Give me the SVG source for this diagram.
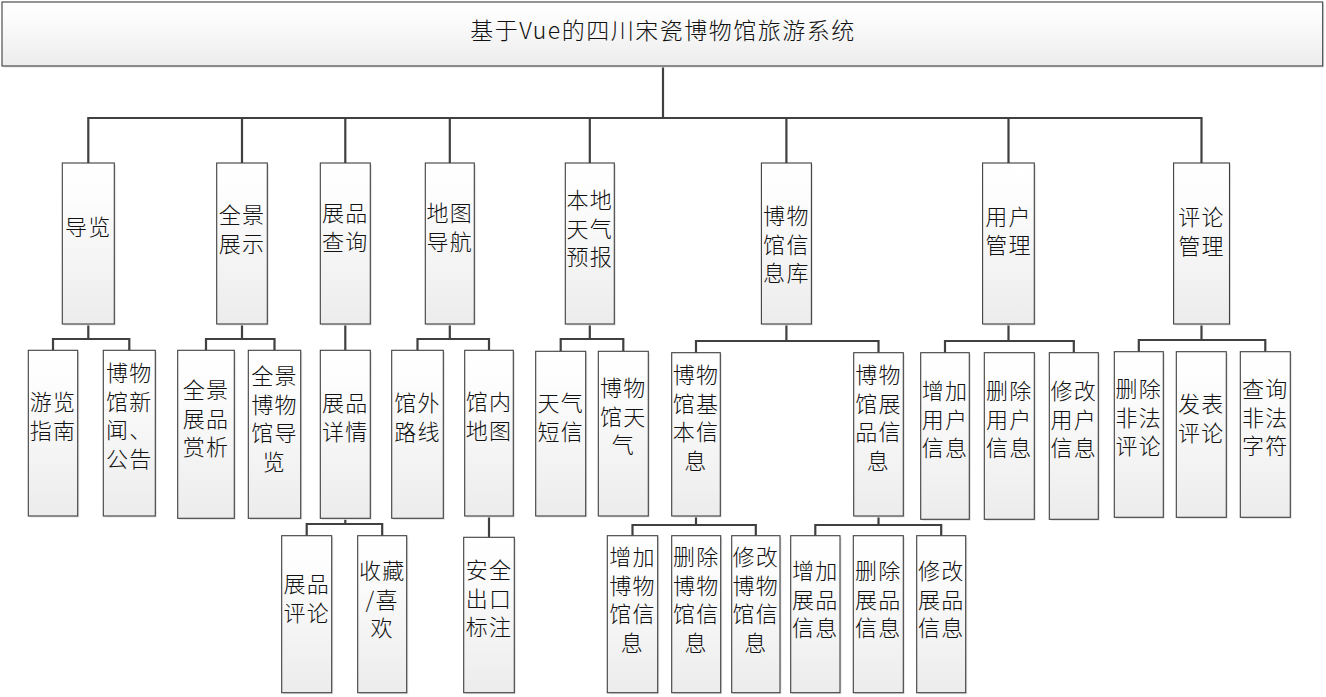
<svg xmlns="http://www.w3.org/2000/svg" width="1326" height="697" viewBox="0 0 1326 697">
<defs>
<linearGradient id="g" x1="0" y1="0" x2="0" y2="1">
<stop offset="0" stop-color="#ffffff"/>
<stop offset="0.2" stop-color="#fdfdfd"/>
<stop offset="1" stop-color="#ececec"/>
</linearGradient>
<style>
.box{fill:url(#g);stroke:#3f3f3f;stroke-width:1.1}
.sh{fill:#e2e2e2}
.t{font-family:"Noto Sans CJK SC","Noto Sans CJK JP",sans-serif;font-size:22px;font-weight:300;fill:#111;text-anchor:middle;letter-spacing:1.3px}
.title{font-size:23px;letter-spacing:1.5px}
.c{fill:none;stroke:#404040;stroke-width:2.2}
</style>
</defs>
<rect width="1326" height="697" fill="#fff"/>
<g id="connectors" class="c">
<path d="M663 66V118"/>
<path d="M88.3 163V118H1201.5V163"/>
<path d="M242 118V163M345.3 118V163M449.8 118V163M589.8 118V163M786.4 118V163M1008.5 118V163"/>
<path d="M88.3 324V339M53 350V339H129.3V350"/>
<path d="M242 324V339M206 350V339H274.5V350"/>
<path d="M345.3 324V350"/>
<path d="M449.8 324V339M417.5 350V339H489V350"/>
<path d="M589.8 324V339M560.7 351V339H623.3V351"/>
<path d="M786.4 324V341M696 352.7V341H878.5V352.7"/>
<path d="M1008.5 324V341M945 352.7V341H1073.8V352.7"/>
<path d="M1201.5 324V340M1138.8 351.7V340H1265.3V351.7"/>
<path d="M345.3 518V524M306.7 535.7V524H382.2V535.7"/>
<path d="M489 516V537.3"/>
<path d="M696 516V525M632.5 535.7V525H755.8V535.7"/>
<path d="M878.5 516V525M815.3 535.7V525H941.2V535.7"/>
</g>
<g id="root"><rect class="sh" x="3.5" y="3.5" width="1320.7" height="64"/><rect class="box" x="2" y="2" width="1320.7" height="64"/><text class="t title" x="663" y="39">基于Vue的四川宋瓷博物馆旅游系统</text></g>
<g id="n1"><rect class="sh" x="63.8" y="164.5" width="52" height="161"/><rect class="box" x="62.3" y="163" width="52" height="161"/><text class="t" x="88.3" y="234.7">导览</text></g>
<g id="n2"><rect class="sh" x="218.2" y="164.5" width="50.6" height="161"/><rect class="box" x="216.7" y="163" width="50.6" height="161"/><text class="t" y="223"><tspan x="242">全景</tspan><tspan x="242" dy="28.5">展示</tspan></text></g>
<g id="n3"><rect class="sh" x="321.8" y="164.5" width="50" height="161"/><rect class="box" x="320.3" y="163" width="50" height="161"/><text class="t" y="221.3"><tspan x="345.3">展品</tspan><tspan x="345.3" dy="28.5">查询</tspan></text></g>
<g id="n4"><rect class="sh" x="426.8" y="164.5" width="49" height="161"/><rect class="box" x="425.3" y="163" width="49" height="161"/><text class="t" y="221.3"><tspan x="449.8">地图</tspan><tspan x="449.8" dy="28.5">导航</tspan></text></g>
<g id="n5"><rect class="sh" x="566.8" y="164.5" width="49" height="161"/><rect class="box" x="565.3" y="163" width="49" height="161"/><text class="t" y="208"><tspan x="589.8">本地</tspan><tspan x="589.8" dy="28.5">天气</tspan><tspan x="589.8" dy="28.5">预报</tspan></text></g>
<g id="n6"><rect class="sh" x="762.9" y="164.5" width="50" height="161"/><rect class="box" x="761.4" y="163" width="50" height="161"/><text class="t" y="224"><tspan x="786.4">博物</tspan><tspan x="786.4" dy="28.5">馆信</tspan><tspan x="786.4" dy="28.5">息库</tspan></text></g>
<g id="n7"><rect class="sh" x="984.1" y="164.5" width="51.7" height="161"/><rect class="box" x="982.6" y="163" width="51.7" height="161"/><text class="t" y="224.7"><tspan x="1008.5">用户</tspan><tspan x="1008.5" dy="28.5">管理</tspan></text></g>
<g id="n8"><rect class="sh" x="1175.1" y="164.5" width="55.9" height="161"/><rect class="box" x="1173.6" y="163" width="55.9" height="161"/><text class="t" y="225"><tspan x="1201.5">评论</tspan><tspan x="1201.5" dy="28.5">管理</tspan></text></g>
<g id="n11"><rect class="sh" x="29.8" y="351.8" width="49.4" height="165.7"/><rect class="box" x="28.3" y="350.3" width="49.4" height="165.7"/><text class="t" y="410"><tspan x="53">游览</tspan><tspan x="53" dy="28.5">指南</tspan></text></g>
<g id="n12"><rect class="sh" x="104.8" y="351.8" width="52" height="165.7"/><rect class="box" x="103.3" y="350.3" width="52" height="165.7"/><text class="t" y="381.3"><tspan x="129.3">博物</tspan><tspan x="129.3" dy="28.5">馆新</tspan><tspan x="129.3" dy="28.5">闻、</tspan><tspan x="129.3" dy="28.5">公告</tspan></text></g>
<g id="n21"><rect class="sh" x="179.2" y="351.8" width="56.6" height="168"/><rect class="box" x="177.7" y="350.3" width="56.6" height="168"/><text class="t" y="398"><tspan x="206">全景</tspan><tspan x="206" dy="28.5">展品</tspan><tspan x="206" dy="28.5">赏析</tspan></text></g>
<g id="n22"><rect class="sh" x="249.8" y="351.8" width="52.4" height="168"/><rect class="box" x="248.3" y="350.3" width="52.4" height="168"/><text class="t" y="384"><tspan x="274.5">全景</tspan><tspan x="274.5" dy="28.5">博物</tspan><tspan x="274.5" dy="28.5">馆导</tspan><tspan x="274.5" dy="28.5">览</tspan></text></g>
<g id="n31"><rect class="sh" x="321.8" y="351.8" width="50" height="168"/><rect class="box" x="320.3" y="350.3" width="50" height="168"/><text class="t" y="411"><tspan x="345.3">展品</tspan><tspan x="345.3" dy="28.5">详情</tspan></text></g>
<g id="n41"><rect class="sh" x="393.2" y="351.8" width="51.6" height="168"/><rect class="box" x="391.7" y="350.3" width="51.6" height="168"/><text class="t" y="411"><tspan x="417.5">馆外</tspan><tspan x="417.5" dy="28.5">路线</tspan></text></g>
<g id="n42"><rect class="sh" x="466.2" y="351.8" width="48.6" height="165.7"/><rect class="box" x="464.7" y="350.3" width="48.6" height="165.7"/><text class="t" y="410"><tspan x="489">馆内</tspan><tspan x="489" dy="28.5">地图</tspan></text></g>
<g id="n51"><rect class="sh" x="537.2" y="352.8" width="50" height="164.7"/><rect class="box" x="535.7" y="351.3" width="50" height="164.7"/><text class="t" y="411"><tspan x="560.7">天气</tspan><tspan x="560.7" dy="28.5">短信</tspan></text></g>
<g id="n52"><rect class="sh" x="599.8" y="352.8" width="50" height="164.7"/><rect class="box" x="598.3" y="351.3" width="50" height="164.7"/><text class="t" y="396"><tspan x="623.3">博物</tspan><tspan x="623.3" dy="28.5">馆天</tspan><tspan x="623.3" dy="28.5">气</tspan></text></g>
<g id="n61"><rect class="sh" x="673.2" y="354.2" width="48.6" height="163.3"/><rect class="box" x="671.7" y="352.7" width="48.6" height="163.3"/><text class="t" y="383"><tspan x="696">博物</tspan><tspan x="696" dy="28.5">馆基</tspan><tspan x="696" dy="28.5">本信</tspan><tspan x="696" dy="28.5">息</tspan></text></g>
<g id="n62"><rect class="sh" x="855.2" y="354.2" width="49.6" height="163.3"/><rect class="box" x="853.7" y="352.7" width="49.6" height="163.3"/><text class="t" y="383"><tspan x="878.5">博物</tspan><tspan x="878.5" dy="28.5">馆展</tspan><tspan x="878.5" dy="28.5">品信</tspan><tspan x="878.5" dy="28.5">息</tspan></text></g>
<g id="n71"><rect class="sh" x="922.2" y="354.2" width="48.6" height="166.6"/><rect class="box" x="920.7" y="352.7" width="48.6" height="166.6"/><text class="t" y="399"><tspan x="945">增加</tspan><tspan x="945" dy="28.5">用户</tspan><tspan x="945" dy="28.5">信息</tspan></text></g>
<g id="n72"><rect class="sh" x="985.8" y="354.2" width="50" height="166.6"/><rect class="box" x="984.3" y="352.7" width="50" height="166.6"/><text class="t" y="399"><tspan x="1009.3">删除</tspan><tspan x="1009.3" dy="28.5">用户</tspan><tspan x="1009.3" dy="28.5">信息</tspan></text></g>
<g id="n73"><rect class="sh" x="1050.8" y="354.2" width="49" height="166.6"/><rect class="box" x="1049.3" y="352.7" width="49" height="166.6"/><text class="t" y="399"><tspan x="1073.8">修改</tspan><tspan x="1073.8" dy="28.5">用户</tspan><tspan x="1073.8" dy="28.5">信息</tspan></text></g>
<g id="n81"><rect class="sh" x="1115.8" y="353.2" width="49" height="165.6"/><rect class="box" x="1114.3" y="351.7" width="49" height="165.6"/><text class="t" y="397"><tspan x="1138.8">删除</tspan><tspan x="1138.8" dy="28.5">非法</tspan><tspan x="1138.8" dy="28.5">评论</tspan></text></g>
<g id="n82"><rect class="sh" x="1177.8" y="353.2" width="50" height="165.6"/><rect class="box" x="1176.3" y="351.7" width="50" height="165.6"/><text class="t" y="412"><tspan x="1201.3">发表</tspan><tspan x="1201.3" dy="28.5">评论</tspan></text></g>
<g id="n83"><rect class="sh" x="1241.8" y="353.2" width="50" height="165.6"/><rect class="box" x="1240.3" y="351.7" width="50" height="165.6"/><text class="t" y="397"><tspan x="1265.3">查询</tspan><tspan x="1265.3" dy="28.5">非法</tspan><tspan x="1265.3" dy="28.5">字符</tspan></text></g>
<g id="n311"><rect class="sh" x="283.2" y="537.2" width="50" height="157"/><rect class="box" x="281.7" y="535.7" width="50" height="157"/><text class="t" y="592"><tspan x="306.7">展品</tspan><tspan x="306.7" dy="28.5">评论</tspan></text></g>
<g id="n312"><rect class="sh" x="359.2" y="537.2" width="49" height="157"/><rect class="box" x="357.7" y="535.7" width="49" height="157"/><text class="t" y="579"><tspan x="382.2">收藏</tspan><tspan x="382.2" dy="28.5">/喜</tspan><tspan x="382.2" dy="28.5">欢</tspan></text></g>
<g id="n421"><rect class="sh" x="465.2" y="538.8" width="50.6" height="155.4"/><rect class="box" x="463.7" y="537.3" width="50.6" height="155.4"/><text class="t" y="578"><tspan x="489">安全</tspan><tspan x="489" dy="28.5">出口</tspan><tspan x="489" dy="28.5">标注</tspan></text></g>
<g id="n611"><rect class="sh" x="608.8" y="537.2" width="50.4" height="157"/><rect class="box" x="607.3" y="535.7" width="50.4" height="157"/><text class="t" y="565"><tspan x="632.5">增加</tspan><tspan x="632.5" dy="28.5">博物</tspan><tspan x="632.5" dy="28.5">馆信</tspan><tspan x="632.5" dy="28.5">息</tspan></text></g>
<g id="n612"><rect class="sh" x="673.2" y="537.2" width="49" height="157"/><rect class="box" x="671.7" y="535.7" width="49" height="157"/><text class="t" y="565"><tspan x="696.2">删除</tspan><tspan x="696.2" dy="28.5">博物</tspan><tspan x="696.2" dy="28.5">馆信</tspan><tspan x="696.2" dy="28.5">息</tspan></text></g>
<g id="n613"><rect class="sh" x="733.2" y="537.2" width="48.3" height="157"/><rect class="box" x="731.7" y="535.7" width="48.3" height="157"/><text class="t" y="565"><tspan x="755.8">修改</tspan><tspan x="755.8" dy="28.5">博物</tspan><tspan x="755.8" dy="28.5">馆信</tspan><tspan x="755.8" dy="28.5">息</tspan></text></g>
<g id="n621"><rect class="sh" x="792.2" y="537.2" width="49.3" height="157"/><rect class="box" x="790.7" y="535.7" width="49.3" height="157"/><text class="t" y="579"><tspan x="815.3">增加</tspan><tspan x="815.3" dy="28.5">展品</tspan><tspan x="815.3" dy="28.5">信息</tspan></text></g>
<g id="n622"><rect class="sh" x="854.8" y="537.2" width="50" height="157"/><rect class="box" x="853.3" y="535.7" width="50" height="157"/><text class="t" y="579"><tspan x="878.3">删除</tspan><tspan x="878.3" dy="28.5">展品</tspan><tspan x="878.3" dy="28.5">信息</tspan></text></g>
<g id="n623"><rect class="sh" x="918.2" y="537.2" width="49" height="157"/><rect class="box" x="916.7" y="535.7" width="49" height="157"/><text class="t" y="579"><tspan x="941.2">修改</tspan><tspan x="941.2" dy="28.5">展品</tspan><tspan x="941.2" dy="28.5">信息</tspan></text></g>
</svg>
